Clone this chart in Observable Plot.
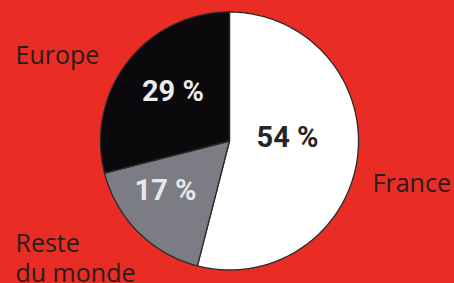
<!DOCTYPE html>
<html><head><meta charset="utf-8">
<script src="https://cdn.jsdelivr.net/npm/d3@7"></script>
<script src="https://cdn.jsdelivr.net/npm/@observablehq/plot@0.6"></script>
<style>html,body{margin:0;padding:0;background:#e92d24;overflow:hidden}</style>
</head><body><div id="chart"></div>
<script>
// Data
const categories = ["France", "Reste du monde", "Europe"];
const values = [54, 17, 29];
const percentLabels = ["54 %", "17 %", "29 %"];
const categoryLabels = ["France", "Reste\ndu monde", "Europe"];

// Styles / layout
const sliceColors = ["#ffffff", "#7c7d84", "#0c090d"];
const percentColors = ["#262626", "#e8e8e8", "#ececec"];
const labelR = [0.45, 0.63, 0.58];
const labelTurn = [-10, 7, 3];
const catPos = [[1.109, -0.233], [-1.659, -0.698], [-1.659, 0.76]]; // unit coords (radius = 1)

const pie = d3.pie().sort(null).value(d => d.value)(
  categories.map((c, i) => ({category: c, value: values[i], i})));

const pts = [];
pie.forEach(a => {
  const c = a.data.category;
  pts.push({cat: c, x: 0, y: 0});
  const n = Math.max(2, Math.ceil((a.endAngle - a.startAngle) / (Math.PI / 180)));
  for (let k = 0; k <= n; k++) {
    const t = a.startAngle + (a.endAngle - a.startAngle) * k / n;
    pts.push({cat: c, x: Math.sin(t), y: Math.cos(t)});
  }
  pts.push({cat: c, x: 0, y: 0});
});

const pctData = pie.map(a => {
  const i = a.data.i;
  const m = (a.startAngle + a.endAngle) / 2 + labelTurn[i] * Math.PI / 180;
  return {x: labelR[i] * Math.sin(m), y: labelR[i] * Math.cos(m), text: percentLabels[i], color: percentColors[i]};
});

const catData = categories.map((c, i) => ({x: catPos[i][0], y: catPos[i][1], text: categoryLabels[i]}));

const R = 129, cx = 229, cy = 140.5, W = 454, H = 283;

const chart = Plot.plot({
  width: W, height: H,
  margin: 0,
  style: {background: "#e92d24", overflow: "visible"},
  x: {domain: [-cx / R, (W - cx) / R], axis: null},
  y: {domain: [-(H - cy) / R, cy / R], axis: null},
  color: {domain: categories, range: sliceColors},
  marks: [
    Plot.line(pts, {x: "x", y: "y", z: "cat", fill: "cat", stroke: "#2a2a2a", strokeWidth: 1.3, strokeLinejoin: "round"}),
    Plot.text(pctData, {x: "x", y: "y", text: "text", fill: d => d.color, fontFamily: "Roboto", fontWeight: 700, fontSize: 29, lineAnchor: "middle", style: "letter-spacing:0.5px"}),
    Plot.text(catData, {x: "x", y: "y", text: "text", fill: "#2a1c1c", fontFamily: "Open Sans", fontSize: 25, textAnchor: "start", lineAnchor: "top", lineHeight: 1.2})
  ]
});
document.getElementById("chart").appendChild(chart);
</script>
</body></html>
